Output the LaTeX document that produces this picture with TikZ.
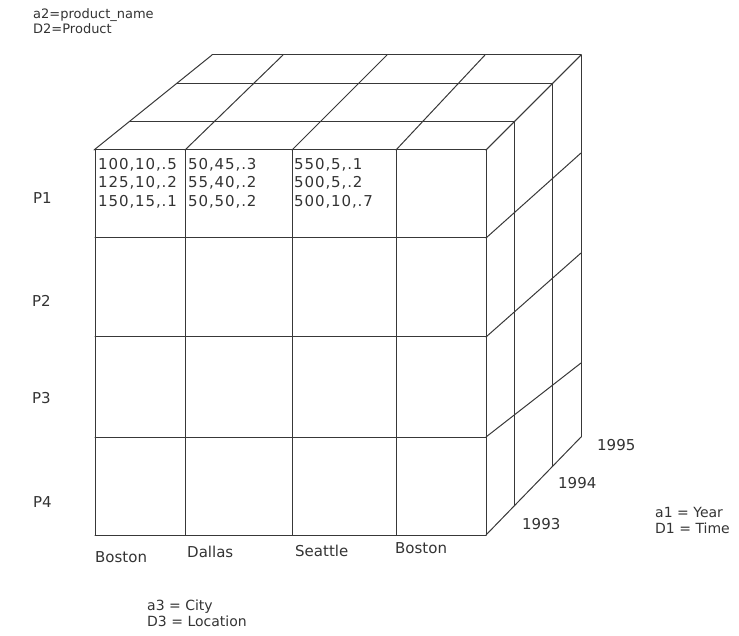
\documentclass[tikz,border=0pt]{standalone}
\usepackage{fontspec}
\usetikzlibrary{calc}
\setmainfont{DejaVu Sans}
\newfontfamily\cellfont[LetterSpace=6]{DejaVu Sans}
\begin{document}
\begin{tikzpicture}[x=1pt,y=-1pt,
  grid/.style={draw=black!78, line width=1pt, line join=round, line cap=round},
  lbl/.style={font=\fontsize{15}{18}\selectfont, text=black!80, inner sep=0pt, anchor=west},
  small/.style={font=\fontsize{14}{16}\selectfont, text=black!80, inner sep=0pt, anchor=west, align=left},
  cell/.style={font=\cellfont\fontsize{15}{18.5}\selectfont, text=black!80, inner sep=0pt, anchor=north west, align=left}]
\useasboundingbox (0,0) rectangle (739,636);

% front face coordinates
\foreach \x [count=\i from 0] in {95,185,292,396,486}{
  \foreach \y [count=\k from 0] in {150,238,337,437,535}{
    \coordinate (f-\i-\k) at (\x,\y);
  }
}
% top face: front and back column points, layers interpolated
\foreach \i/\a/\d in {0/94/212, 1/185/283, 2/292/387, 3/396/485, 4/486/581}{
  \coordinate (t-\i-0) at (\a,150);
  \coordinate (t-\i-3) at (\d,55);
  \coordinate (t-\i-1) at ($(t-\i-0)!0.3!(t-\i-3)$);
  \coordinate (t-\i-2) at ($(t-\i-0)!0.7!(t-\i-3)$);
}
% right face: front and back row points, layers interpolated
\foreach \k/\ya/\yd in {0/150/55, 1/238/153, 2/337/253, 3/437/363, 4/535/437}{
  \coordinate (r-0-\k) at (486,\ya);
  \coordinate (r-3-\k) at (581,\yd);
  \coordinate (r-1-\k) at ($(r-0-\k)!0.3!(r-3-\k)$);
  \coordinate (r-2-\k) at ($(r-0-\k)!0.7!(r-3-\k)$);
}

% front grid
\foreach \i in {0,...,4}{ \draw[grid] (f-\i-0) -- (f-\i-4); }
\foreach \k in {0,...,4}{ \draw[grid] (f-0-\k) -- (f-4-\k); }
% top grid
\foreach \j in {1,2,3}{ \draw[grid] (t-0-\j) -- (t-4-\j); }
\foreach \i in {0,...,4}{ \draw[grid] (t-\i-0) -- (t-\i-3); }
% right grid
\foreach \j in {1,2,3}{ \draw[grid] (r-\j-0) -- (r-\j-4); }
\foreach \k in {0,...,4}{ \draw[grid] (r-0-\k) -- (r-3-\k); }

% cell contents
\node[cell] (c1) at (98,158) {100,10,.5\\125,10,.2\\150,15,.1};
\node[cell] (c2) at (188,158) {50,45,.3\\55,40,.2\\50,50,.2};
\node[cell] (c3) at (294,158) {550,5,.1\\500,5,.2\\500,10,.7};

% row labels
\node[lbl] (p1) at (33,198) {P1};
\node[lbl] (p2) at (32,301) {P2};
\node[lbl] (p3) at (32,398) {P3};
\node[lbl] (p4) at (33,502) {P4};

% column labels
\node[lbl] (b1) at (95,557) {Boston};
\node[lbl] (da) at (187,552) {Dallas};
\node[lbl] (se) at (295,551) {Seattle};
\node[lbl] (b2) at (395,548) {Boston};

% year labels
\node[lbl] (y95) at (597,445) {1995};
\node[lbl] (y94) at (558,483) {1994};
\node[lbl] (y93) at (522,524) {1993};

% legends
\node[small, font=\fontsize{13}{15.5}\selectfont] (dim2) at (33,21) {a2=product\_name\\D2=Product};
\node[small] (dim3) at (147,613) {a3 = City\\D3 = Location};
\node[small] (dim1) at (655,520) {a1 = Year\\D1 = Time};
\end{tikzpicture}
\end{document}
